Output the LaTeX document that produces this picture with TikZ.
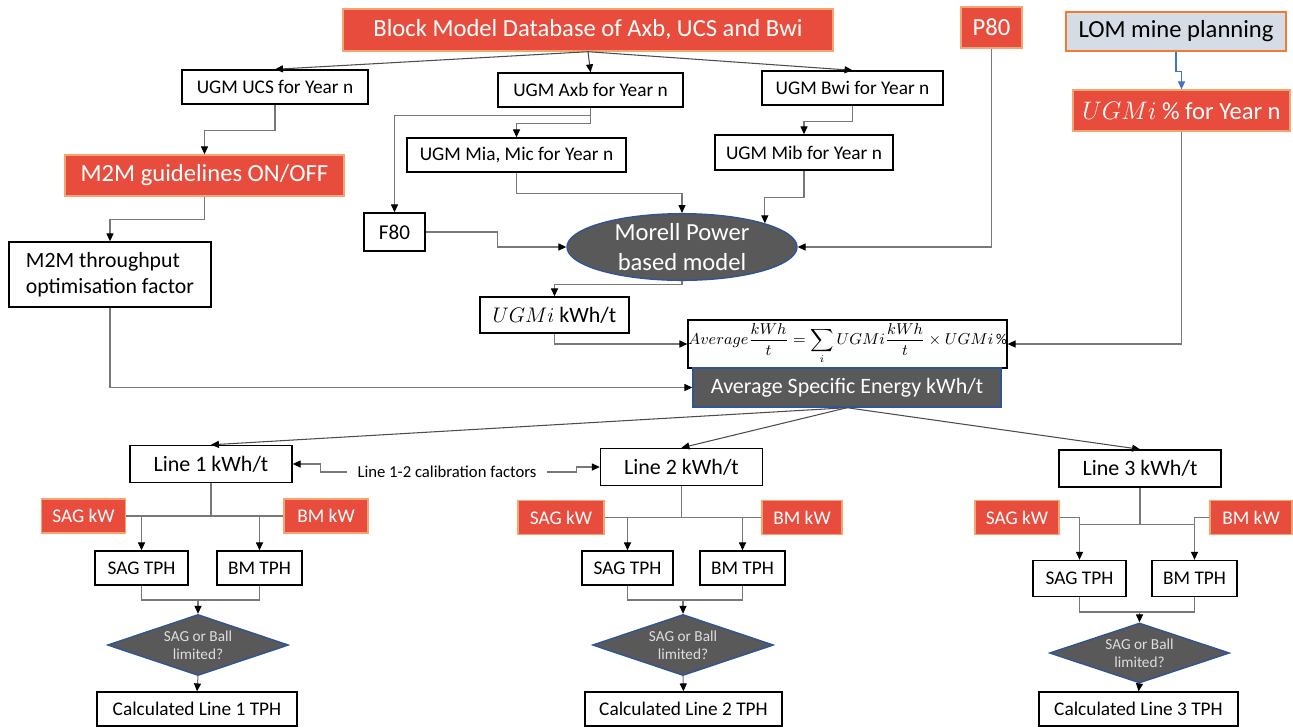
\documentclass[tikz,border=0pt]{standalone}
\usepackage{fontspec}
\setmainfont{Carlito}
\usepackage{amsmath}
\usetikzlibrary{positioning,arrows.meta,shapes.geometric}
\definecolor{hotred}{RGB}{232,76,61}
\definecolor{hotedge}{RGB}{244,164,112}
\definecolor{darkfill}{RGB}{89,89,89}
\definecolor{darkedge}{RGB}{47,85,151}
\definecolor{lomfill}{RGB}{214,220,229}
\definecolor{lomedge}{RGB}{237,125,49}
\definecolor{wiregray}{RGB}{120,120,120}
\definecolor{blueline}{RGB}{68,114,196}
\definecolor{dtext}{RGB}{222,222,222}

\begin{document}
\begin{tikzpicture}[
    x=0.02cm, y=-0.02cm,
    boxsize/.style 2 args={minimum width=#1*0.02cm, minimum height=#2*0.02cm},
    box/.style={draw, line width=0.8pt, inner sep=0pt, align=center, font=\fontsize{11}{13}\selectfont},
    hot/.style={box, fill=hotred, draw=hotedge, text=white, font=\fontsize{14}{17}\selectfont},
    dark/.style={box, fill=darkfill, draw=darkedge, text=white},
    linebox/.style={box, boxsize={162}{37}, font=\fontsize{12.5}{15}\selectfont},
    kw/.style={hot, boxsize={84}{34}, font=\fontsize{11}{13}\selectfont},
    tph/.style={box, boxsize={90}{34}},
    decide/.style={dark, diamond, aspect=3, boxsize={181}{61}, text=dtext, font=\fontsize{8.7}{10.5}\selectfont},
    wire/.style={draw=wiregray, line width=0.6pt},
    arr/.style={wire, -{Triangle[length=4.5pt,width=4pt,color=black]}},
    lbl/.style={font=\fontsize{9.5}{11}\selectfont, inner xsep=0.2cm, inner ysep=0pt}
]
\useasboundingbox (0,0) rectangle (1293,727);

% top row
\node[hot, boxsize={490}{42}] (db) at (588,30) {Block Model Database of Axb, UCS and Bwi};
\node[hot, boxsize={61}{41}] (p80) at (991.5,27.5) {P80};
\node[box, fill=lomfill, draw=lomedge, boxsize={220}{39}, font=\fontsize{14}{17}\selectfont] (lom) at (1176,31.5) {LOM mine planning};
\node[hot, boxsize={217}{41}] (ugmpct) at (1181.5,110.5) {$UGMi$ \% for Year n};

\node[box, boxsize={186}{34}] (ucs) at (275,87) {UGM UCS for Year n};
\node[box, boxsize={185}{34}] (axb) at (590.5,90) {UGM Axb for Year n};
\node[box, boxsize={181}{34}] (bwi) at (852.5,88) {UGM Bwi for Year n};
\node[box, boxsize={219}{34}] (mia) at (516.5,155) {UGM Mia, Mic for Year n};
\node[box, boxsize={178}{35}] (mib) at (804,152.5) {UGM Mib for Year n};

\node[hot, boxsize={279}{41}] (m2m) at (204.5,175.5) {M2M guidelines ON/OFF};
\node[box, boxsize={202}{65}, align=left, font=\fontsize{12.4}{14.5}\selectfont] (thr) at (110,274.5) {M2M throughput\\optimisation factor};
\node[box, boxsize={61}{38}, font=\fontsize{12}{14}\selectfont] (f80) at (394.5,232) {F80};
\node[dark, ellipse, boxsize={230}{66}, font=\fontsize{14}{17}\selectfont] (morell) at (682,247) {Morell Power\\based model};
\node[box, boxsize={149}{36}, font=\fontsize{12.5}{15}\selectfont] (ugmi) at (554.5,315) {$UGMi$ kWh/t};
\node[box, boxsize={315}{48}, font=\fontsize{8.6}{10}\selectfont] (frm) at (847.5,344)
    {$\displaystyle Average\frac{kWh}{t}=\sum_i UGMi\frac{kWh}{t}\times UGMi\,\%$};
\node[dark, boxsize={308}{39}, font=\fontsize{12.5}{15}\selectfont] (avg) at (847,387.5) {Average Specific Energy kWh/t};

% lines
\node[linebox] (l1) at (211,464) {Line 1 kWh/t};
\node[linebox] (l2) at (681.5,467) {Line 2 kWh/t};
\node[linebox] (l3) at (1140,468.5) {Line 3 kWh/t};
\node[lbl] (cal) at (447,472) {Line 1-2 calibration factors};

\node[kw] (sk1) at (83.5,516) {SAG kW};
\node[kw] (bk1) at (326,516) {BM kW};
\node[tph, boxsize={93}{34}] (st1) at (141.5,568) {SAG TPH};
\node[tph, boxsize={85}{34}] (bt1) at (259.5,568) {BM TPH};
\node[decide] (d1) at (198,645) {SAG or Ball\\limited?};
\node[box, boxsize={200}{34}] (c1) at (197,709) {Calculated Line 1 TPH};
\coordinate (j1) at (198,600);

\node[kw, boxsize={86}{34}] (sk2) at (561,517.5) {SAG kW};
\node[kw, boxsize={80}{34}] (bk2) at (802,517.5) {BM kW};
\node[tph, boxsize={91}{34}] (st2) at (627.5,568) {SAG TPH};
\node[tph, boxsize={85}{34}] (bt2) at (742.5,568) {BM TPH};
\node[decide] (d2) at (683,645) {SAG or Ball\\limited?};
\node[box, boxsize={197}{34}] (c2) at (683.5,709) {Calculated Line 2 TPH};
\coordinate (j2) at (683,600);

\node[kw] (sk3) at (1017,517.5) {SAG kW};
\node[kw, boxsize={82}{34}] (bk3) at (1251,517.5) {BM kW};
\node[tph, boxsize={93}{36}] (st3) at (1079.5,578.5) {SAG TPH};
\node[tph, boxsize={85}{36}] (bt3) at (1194.5,578.5) {BM TPH};
\node[decide, boxsize={180}{60}] (d3) at (1139.5,653) {SAG or Ball\\limited?};
\node[box, boxsize={199}{34}] (c3) at (1138.5,709) {Calculated Line 3 TPH};
\coordinate (j3) at (1139.5,612);

% connectors, top part
\draw[arr, draw=black!70] (db.south) -- (ucs.north);
\draw[arr, draw=black!70] (db.south) -- (axb.north);
\draw[arr, draw=black!70] (db.south) -- (bwi.north);
\draw[arr] (axb.south) -- ++(0,8) -| (f80.north);
\draw[arr] (axb.south) -- ++(0,16) -| (mia.north);
\draw[arr] (bwi.south) -- ++(0,16) -| (mib.north);
\draw[arr] (ucs.south) -- ++(0,26) -| (m2m.north);
\draw[arr] (m2m.south) -- ++(0,23) -| (thr.north);
\draw[arr] (mia.south) -- ++(0,21) -| (morell.north);
\draw[arr] (mib.south) -- ++(0,27) -| (morell.16);
\draw[arr] (f80.east) -- ++(72,0) |- (morell.west);
\draw[arr] (p80.south) |- (morell.east);
\draw[line width=0.6pt, draw=blueline, -{Triangle[length=4.5pt,width=4pt]}] (lom.south) -- ++(0,20) -| (ugmpct.north);
\draw[arr] (morell.south) -- ++(0,3) -| (ugmi.north);
\draw[arr] (ugmi.south) |- (frm.west);
\draw[arr] (ugmpct.south) |- (frm.east);
\draw[arr] (thr.south) |- (avg.west);

% connectors, lines
\draw[arr, draw=black!70] (avg.south) -- (l1.north);
\draw[arr, draw=black!70] (avg.south) -- (l2.north);
\draw[arr, draw=black!70] (avg.south) -- (l3.north);
\draw[arr] (cal.west) -- ++(-27,0) |- (l1.east);
\draw[arr] (cal.east) -- ++(30,0) |- (l2.west);

\draw[wire] (sk1.east) -- (bk1.west);
\draw[wire] (l1.south) -- (l1.south |- sk1.east);
\draw[arr] (st1.north |- sk1.east) -- (st1.north);
\draw[arr] (bt1.north |- bk1.west) -- (bt1.north);
\draw[wire] (st1.south) |- (j1) -| (bt1.south);
\draw[arr] (j1) -- (d1.north);
\draw[arr] (d1.south) -- (c1.north);

\draw[wire] (sk2.east) -- (bk2.west);
\draw[wire] (l2.south) -- (l2.south |- sk2.east);
\draw[arr] (st2.north |- sk2.east) -- (st2.north);
\draw[arr] (bt2.north |- bk2.west) -- (bt2.north);
\draw[wire] (st2.south) |- (j2) -| (bt2.south);
\draw[arr] (j2) -- (d2.north);
\draw[arr] (d2.south) -- (c2.north);

\draw[wire] (l3.south) -- ++(0,37) coordinate (k3);
\draw[wire] (k3 -| st3.north) -- (k3 -| bt3.north);
\draw[arr] (sk3.east) -| (st3.north);
\draw[arr] (bk3.west) -| (bt3.north);
\draw[wire] (st3.south) |- (j3) -| (bt3.south);
\draw[arr] (j3) -- (d3.north);
\draw[arr] (d3.south) -- (c3.north);
\end{tikzpicture}
\end{document}
